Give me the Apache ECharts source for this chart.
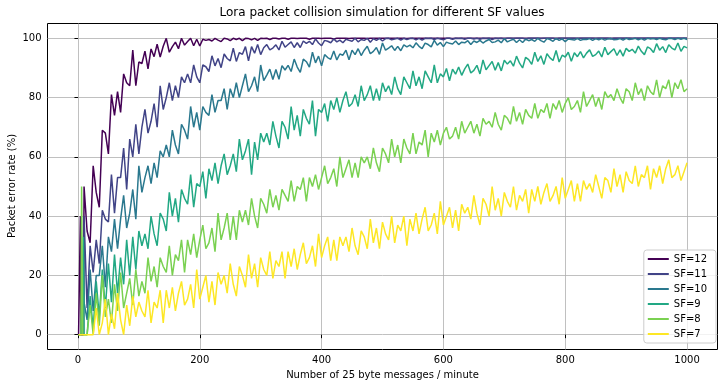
<!DOCTYPE html>
<html>
<head>
<meta charset="utf-8">
<script src="https://cdn.jsdelivr.net/npm/echarts@6/dist/echarts.min.js"></script>
<style>
html,body{margin:0;padding:0;background:#fff;}
#chart{width:724px;height:387px;}
</style>
</head>
<body>
<div id="chart"></div>
<script>
// x positions (number of 25 byte messages / minute)
const xs = [1,2,3,4,5,6,7,8,9,10,
15,20,25,30,35,40,45,50,55,60,65,70,75,80,85,90,95,100,
105,110,115,120,125,130,135,140,145,150,155,160,165,170,175,180,185,190,195,200,
205,210,215,220,225,230,235,240,245,250,255,260,265,270,275,280,285,290,295,300,
305,310,315,320,325,330,335,340,345,350,355,360,365,370,375,380,385,390,395,400,
405,410,415,420,425,430,435,440,445,450,455,460,465,470,475,480,485,490,495,500,
505,510,515,520,525,530,535,540,545,550,555,560,565,570,575,580,585,590,595,600,
605,610,615,620,625,630,635,640,645,650,655,660,665,670,675,680,685,690,695,700,
705,710,715,720,725,730,735,740,745,750,755,760,765,770,775,780,785,790,795,800,
805,810,815,820,825,830,835,840,845,850,855,860,865,870,875,880,885,890,895,900,
905,910,915,920,925,930,935,940,945,950,955,960,965,970,975,980,985,990,995,1000];

const seriesNames = ['SF=12','SF=11','SF=10','SF=9','SF=8','SF=7'];
const seriesColors = ['#440154','#414487','#2a788e','#22a884','#7ad151','#fde725'];

const sf12 = [0,0,0,40,0,0,0,0,0,50,
35,31,57,48,43,69,68,61,81,74,82,75,88,85,84,96,84,92,
91.5,95.7,89.7,96.4,93.8,98.0,93.7,97.3,100,95.3,
97.2,98.7,96.5,100,97.7,98.9,100,97.5,99.7,97.4,
99.7,99.3,99.6,99.1,100,99.4,98.9,100,99.8,99.2,
100,99.6,100,99.2,100,99.9,99.5,100,99.3,100,
99.9,100,99.6,100,100,99.8,100,100,99.7,100,
100,99.9,100,100,100,99.7,100,100,100,99.9,
100,100,100,99.8,100,100,100,100,99.9,100,
100,100,100,100,99.9,100,100,100,100,100,
100,100,100,100,100,100,100,99.9,100,100,
100,100,100,100,100,100,100,100,100,100,
100,100,99.9,100,100,100,100,100,100,100,
100,100,100,100,100,100,100,100,100,100,
100,100,100,100,100,100,100,100,100,100,
100,100,100,100,100,100,100,100,100,100,
100,100,100,100,100,100,100,100,100,100,
100,100,100,100,100,100,100,100,100,100,
100,100,100,100,100,100,100,100,100,100,
100,100,100,100,100,100,100,100,100,100];

const sf11 = [0,0,0,0,0,0,0,0,0,40,
9,30,21,32,24,42,39,38,54,41,53,53,63,49,66,60,71,61,
70,76,68,72,78,70,84,76,80,85,
79,84,80,87,85,88,85,91,87,85,
91.0,90.4,88.8,94.1,90.7,93.2,90.1,94.7,93.2,92.4,
96.7,92.2,95.2,94.6,97.2,92.4,97.2,95.0,97.9,94.5,
96.8,97.9,96.1,96.7,97.8,96.1,99.0,97.0,97.9,98.8,
96.9,98.5,96.9,99.1,98.3,99.0,97.9,99.8,98.4,97.5,
99.3,99.0,98.5,99.8,98.8,99.4,98.5,99.7,99.3,99.0,
100,98.8,99.6,99.3,100,98.7,99.9,99.3,100,99.1,
99.9,100,99.5,99.8,100,99.4,100,99.6,99.9,100,
99.5,100,99.4,100,99.9,100,99.6,100,99.8,99.5,
100,100,99.7,100,99.9,100,99.7,100,100,99.8,
100,99.7,100,99.9,100,99.6,100,99.9,100,99.8,
100,100,99.9,100,100,100,99.8,100,100,100,
100,99.9,100,100,100,100,99.8,100,100,100,
100,100,100,99.9,100,100,100,100,100,99.9,
100,100,100,100,99.8,100,100,100,100,100,
100,99.9,100,100,100,100,100,100,100,100,
100,100,99.9,100,100,100,100,100,100,100];

const sf10 = [0,0,0,0,0,0,0,0,25,11,
5,22,8,20,20,30,16,33,28,39,29,39,47,36,41,49,39,57,
48,53,57,51,58,53,62,60,64,60,
69,64,61,71,69,66,77,70,75,69,
77,75,74,81,75,79,79,83,76,83,
80,85,80,84,88,82,84,87,82,91,
85.7,87.6,89.6,86.1,89.5,86.2,90.8,89.3,90.9,88.8,
93.0,90.3,88.5,93.0,92.1,90.3,95.3,91.7,94.0,90.7,
94.5,93.5,92.9,95.7,92.7,94.7,94.3,96.0,92.8,96.0,
94.5,96.5,94.2,96.0,97.3,94.8,95.6,96.9,94.6,98.4,
96.0,96.7,97.5,95.9,97.3,95.8,97.8,97.1,97.7,96.8,
98.5,97.3,96.5,98.4,97.9,97.1,99.3,97.7,98.6,97.2,
98.7,98.3,98.1,99.1,97.9,98.7,98.5,99.2,97.9,99.1,
98.6,99.3,98.4,99.1,99.6,98.6,98.8,99.4,98.5,99.9,
98.8,99.3,99.7,98.6,99.5,98.6,99.7,99.2,99.6,99.0,
100,99.2,98.7,99.9,99.6,99.0,100,99.3,99.8,98.9,
99.8,99.6,99.4,100,99.3,99.7,99.6,99.9,99.3,99.9,
99.5,99.9,99.4,99.8,100,99.5,99.6,99.9,99.4,100,
99.6,99.8,100,99.5,99.9,99.4,100,99.8,99.9,99.6,
100,99.7,99.5,100,99.9,99.6,100,99.7,100,99.6];

const sf9 = [0,0,0,0,0,0,0,0,33,0,
0,13,2,18,6,22,9,24,11,27,14,26,17,32,20,33,22,35,
30,34,29,40,34,30,41,39,35,48,
40,46,38,49,46,44,54,43,51,50,
55,46,56,52,58,51,57,61,54,57,
61,55,66,59,62,66,54,65,59,68,
65,68,64,72,67,63,72,70,66,77,
69,74,67,76,73,71,79,67,76,75,
78,72,79,76,80,75,79,82,77,78,
81,77,84,79,81,84,79,83,79,85,
82,84,81,87,83,81,87,85,83,89,
84,87,83,89,87,85,91,85,88,87,
89.8,85.7,89.6,87.9,90.3,87.5,89.7,91.3,88.3,89.2,
90.9,88.0,92.7,89.4,90.8,92.2,89.2,91.8,89.0,92.6,
91.3,92.4,90.6,94.0,91.6,90.0,93.6,92.8,91.2,95.3,
92.2,94.1,91.2,94.8,93.4,92.5,95.9,92.0,94.3,93.7,
95.3,92.3,95.1,93.8,95.5,93.4,95.0,96.1,93.9,94.5,
95.7,93.7,97.0,94.5,95.5,96.5,94.2,96.1,94.0,96.6,
95.6,96.3,95.0,97.4,95.6,94.5,97.1,96.5,95.2,98.2,
96.0,97.2,95.2,97.8,96.7,96.1,98.4,95.6,97.3,96.8];

const sf8 = [0,0,0,0,0,50,50,0,0,0,
0,10,0,14,3,20,6,12,4,17,8,21,9,14,19,10,22,13,
18,14,26,18,23,16,26,23,21,30,
20,27,25,32,21,32,27,34,26,32,
37,29,31,36,28,41,32,36,41,32,
40,32,42,38,42,37,46,40,36,46,
44,41,49,43,47,42,49,47,45,52,
45,50,49,53,45,53,50,54,49,53,
57,51,53,56,50,60,53,56,59,53,
58,53,60,58,60,56,63,58,55,63,
61,58,66,60,64,58,66,63,61,68,
61,65,64,69,60,68,65,69,64,68,
70,66,67,70,66,72,68,70,72,68,
71,67,73,71,72,70,75,71,69,74,
73,71,77,72,75,71,76,74,73,78,
73,76,75,78,73,78,76,79,75,78,
80,76,77,79,75,82,77,79,81,77,
80,76,82,80,81,79,83,80,78,83,
82,79,85,81,83,79,84,82,81,86,
80,84,83,86,80,85,83,86,82,83];

const sf7 = [0,0,0,0,0,0,0,0,0,0,
0,0,0,9,0,4,12,0,7,2,14,5,0,10,3,13,6,11,
8,6,15,4,11,9,15,4,15,9,
16,8,14,18,10,12,17,9,22,12,
16,20,11,18,10,21,17,20,14,24,
17,13,23,20,16,27,19,24,16,26,
22,20,28,19,25,23,28,19,28,23,
29,22,27,31,24,26,30,23,34,26,
30,33,25,32,25,33,30,33,28,36,
30,27,35,33,29,39,31,36,29,38,
34,32,40,31,37,35,40,30,39,35,
41,34,39,43,35,37,41,34,45,37,
40,43,36,42,35,44,41,43,39,47,
41,37,46,44,40,50,42,46,40,48,
45,43,50,42,47,45,49,41,49,45,
50,44,48,51,45,47,50,44,53,46,
49,52,45,51,45,52,49,51,48,54,
50,46,53,52,48,56,50,54,48,55,
52,51,57,50,54,53,57,49,56,53,
57,51,56,59,53,54,57,52,55,58];

const xTicks = [0,200,400,600,800,1000];
const yTicks = [0,20,40,60,80,100];

const titleText = 'Lora packet collision simulation for different SF values';
const xName = 'Number of 25 byte messages / minute';
const yName = 'Packet error rate (%)';

const allY = [sf12, sf11, sf10, sf9, sf8, sf7];
const FONT = 'DejaVu Sans';

const chart = echarts.init(document.getElementById('chart'), null, {renderer: 'canvas'});
const series = allY.map((ys, k) => ({
  name: seriesNames[k],
  type: 'line',
  data: xs.map((x, i) => [x, ys[i]]),
  showSymbol: false,
  symbol: 'none',
  sampling: null,
  color: seriesColors[k],
  lineStyle: {width: 1.5, color: seriesColors[k]},
  emphasis: {disabled: true},
  animation: false
}));

chart.setOption({
  animation: false,
  textStyle: {fontFamily: FONT},
  grid: {left: 47.5, right: 6.5, top: 23.5, bottom: 37.5, containLabel: false, outerBoundsMode: 'none',
         show: true, borderColor: '#000', borderWidth: 1, backgroundColor: 'transparent'},
  graphic: [{
    type: 'text', x: 382, y: 13,
    style: {text: titleText, font: '12px "DejaVu Sans"', fill: '#000', textAlign: 'center', textVerticalAlign: 'middle'}
  }, {
    type: 'text', x: 12, y: 186, rotation: Math.PI / 2,
    style: {text: yName, font: '10px "DejaVu Sans"', fill: '#000', textAlign: 'center', textVerticalAlign: 'middle'}
  }],
  legend: {
    orient: 'vertical', right: 8, bottom: 44,
    icon: 'rect', itemWidth: 21, itemHeight: 2, itemGap: 3,
    padding: [3, 9, 3, 4],
    backgroundColor: 'rgba(255,255,255,0.8)', borderColor: '#cccccc', borderWidth: 1, borderRadius: 3,
    textStyle: {fontFamily: FONT, fontSize: 10, color: '#000', lineHeight: 12, height: 12},
    data: seriesNames
  },
  xAxis: {
    type: 'value', min: -50, max: 1050,
    name: xName, nameLocation: 'middle', nameGap: 21,
    nameTextStyle: {fontFamily: FONT, fontSize: 10, color: '#000'},
    axisLine: {show: false},
    axisTick: {show: true, customValues: xTicks, length: 3.5, lineStyle: {color: '#000', width: 1}},
    axisLabel: {customValues: xTicks, margin: 6, fontFamily: FONT, fontSize: 10, color: '#000', formatter: v => String(v)},
    splitLine: {show: true, lineStyle: {color: '#b0b0b0', width: 0.8}}
  },
  yAxis: {
    type: 'value', min: -5, max: 105,
    axisLine: {show: false},
    axisTick: {show: true, customValues: yTicks, length: 3.5, lineStyle: {color: '#000', width: 1}},
    axisLabel: {customValues: yTicks, margin: 6, fontFamily: FONT, fontSize: 10, color: '#000', formatter: v => String(v)},
    splitLine: {show: true, lineStyle: {color: '#b0b0b0', width: 0.8}}
  },
  series: series
});
</script>
</body>
</html>
